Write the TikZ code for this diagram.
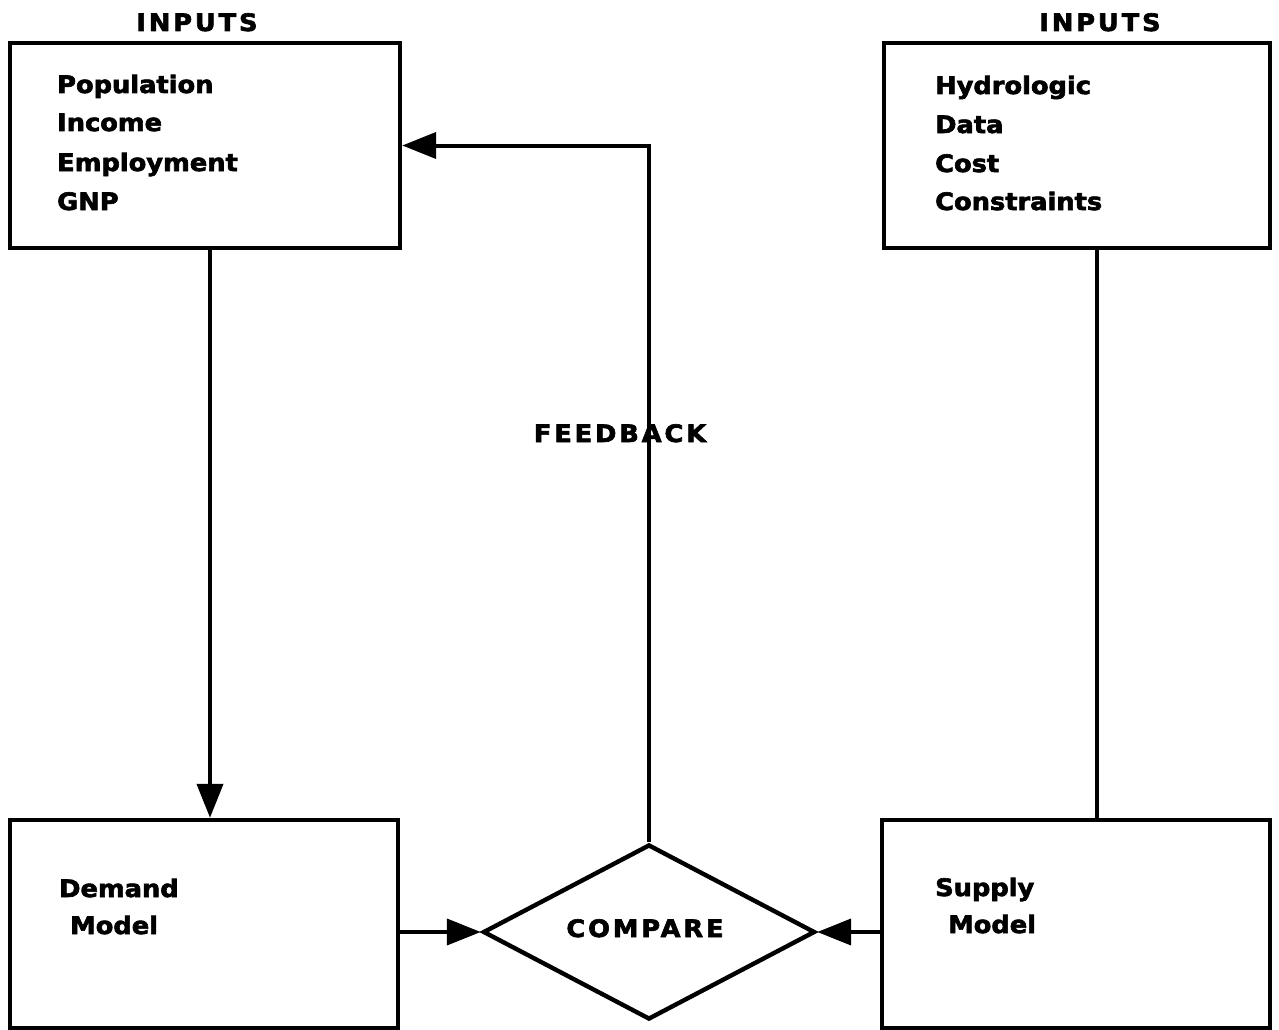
\documentclass[tikz,border=0pt]{standalone}
\usepackage{fontspec}
\setmainfont{DejaVu Sans}[BoldFeatures={FakeBold=2.6,FakeStretch=1.07}]
\usetikzlibrary{arrows.meta,shapes.geometric}
\begin{document}
\begin{tikzpicture}[x=1pt,y=-1pt,
  box/.style={draw,line width=4.4pt,rectangle,inner sep=0pt},
  txt/.style={anchor=base west,inner sep=0pt,font=\bfseries\fontsize{24}{28}\selectfont},
  capt/.style={anchor=base,inner sep=0pt,font=\bfseries\fontsize{24}{28}\selectfont\addfontfeatures{LetterSpace=12}},
  link/.style={line width=4pt},
  arr/.style={link,-{Triangle[length=34pt,width=26pt]}}]
\useasboundingbox (0,0) rectangle (1279,1030);

% model boxes
\node[box,minimum width=390pt,minimum height=205pt] (inL) at (205,145.5) {};
\node[box,minimum width=386pt,minimum height=205pt] (inR) at (1077,145.5) {};
\node[box,minimum width=388pt,minimum height=208pt] (dem) at (204,924) {};
\node[box,minimum width=388pt,minimum height=208pt] (sup) at (1076,924) {};
\node[draw,line width=4.4pt,shape=diamond,inner sep=0pt,aspect=1.9,
      minimum width=332pt,minimum height=175pt] (cmp) at (649,932) {};

% headings
\node[capt] (hL) at (197,31) {INPUTS};
\node[capt] (hR) at (1100,31) {INPUTS};

% input lists
\node[txt] (l1) at (57,93) {Population};
\node[txt] (l2) at (57,131) {Income};
\node[txt] (l3) at (57,171) {Employment};
\node[txt] (l4) at (57,210) {GNP};
\node[txt] (r1) at (935,94) {Hydrologic};
\node[txt] (r2) at (935,133) {Data};
\node[txt] (r3) at (935,172) {Cost};
\node[txt] (r4) at (935,210) {Constraints};

% model labels
\node[txt] (d1) at (59,897) {Demand};
\node[txt] (d2) at (70,934) {Model};
\node[txt] (s1) at (935,896) {Supply};
\node[txt] (s2) at (948,933) {Model};
\node[capt] (ct) at (645,937) {COMPARE};

% connectors
\draw[arr] ([xshift=5pt]inL.south) -- ([xshift=6pt]dem.north);
\draw[link] ([xshift=20pt]inR.south) -- ([xshift=21pt]sup.north);
\draw[arr] (dem.east |- cmp.west) -- (cmp.west);
\draw[arr] (sup.west |- cmp.east) -- (cmp.east);
\draw[arr] (cmp.north) |- (inL.east);

\node[capt] (fb) at (620,442) {FEEDBACK};
\end{tikzpicture}
\end{document}
